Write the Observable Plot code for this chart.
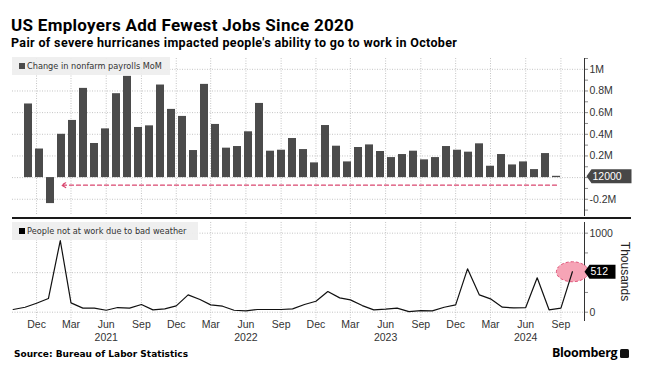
<!DOCTYPE html>
<html><head><meta charset="utf-8">
<script src="https://cdn.jsdelivr.net/npm/d3@7"></script>
<script src="https://cdn.jsdelivr.net/npm/@observablehq/plot@0.6"></script>
<style>
  html,body{margin:0;padding:0;background:#fff;}
  body{width:647px;height:375px;position:relative;overflow:hidden;font-family:"Liberation Sans",Arial,sans-serif;}
  .abs{position:absolute;}
  #title{left:11px;top:17px;font:700 17px/17px Roboto,sans-serif;letter-spacing:0.3px;color:#000;white-space:nowrap;}
  #subtitle{left:11px;top:37px;font:700 12.5px/12.5px Roboto,sans-serif;letter-spacing:0.35px;color:#000;white-space:nowrap;}
  .legend{background:rgba(238,238,238,0.92);font-family:"DejaVu Sans",sans-serif;font-size:8.2px;color:#333;white-space:nowrap;line-height:18px;height:18px;padding-left:15px;box-sizing:border-box;}
  .legend i{position:absolute;left:7px;top:6px;width:6px;height:6px;}
  #legTop{left:12px;top:57px;width:158px;}
  #legBot{left:12px;top:222px;width:186px;}
  #sep{left:12px;top:216.5px;width:619px;height:2.5px;background:#1a1a1a;}
  #source{left:14px;top:348px;font:700 9px/12px "DejaVu Sans",sans-serif;color:#000;white-space:nowrap;}
  #brand{left:552px;top:346px;font:700 12.5px/14px "Open Sans",sans-serif;color:#000;white-space:nowrap;letter-spacing:-0.3px;}
  #brand span{display:inline-block;width:9px;height:9px;background:#111;border-radius:1.5px;margin-left:3px;vertical-align:-0.5px;}
  [aria-label^="y-axis"] line, [aria-label^="y-axis"] path{stroke:#8a8a8a;}
</style>
</head><body>
<div id="title" class="abs">US Employers Add Fewest Jobs Since 2020</div>
<div id="subtitle" class="abs">Pair of severe hurricanes impacted people's ability to go to work in October</div>
<div id="charts"></div>
<div id="sep" class="abs"></div>
<div id="legTop" class="abs legend"><i style="background:#4b4b4b"></i>Change in nonfarm payrolls MoM</div>
<div id="legBot" class="abs legend"><i style="background:#000"></i>People not at work due to bad weather</div>
<div id="source" class="abs">Source: Bureau of Labor Statistics</div>
<div id="brand" class="abs">Bloomberg<span></span></div>
<script>
// ---- data ----
const months = [
  "2020-10","2020-11","2020-12",
  "2021-01","2021-02","2021-03","2021-04","2021-05","2021-06","2021-07","2021-08","2021-09","2021-10","2021-11","2021-12",
  "2022-01","2022-02","2022-03","2022-04","2022-05","2022-06","2022-07","2022-08","2022-09","2022-10","2022-11","2022-12",
  "2023-01","2023-02","2023-03","2023-04","2023-05","2023-06","2023-07","2023-08","2023-09","2023-10","2023-11","2023-12",
  "2024-01","2024-02","2024-03","2024-04","2024-05","2024-06","2024-07","2024-08","2024-09","2024-10"
];
// change in nonfarm payrolls, thousands
const payrolls = [
  680, 264, -240,
  400, 528, 824, 315, 450, 775, 935, 463, 478, 855, 630, 565,
  250, 861, 491, 272, 287, 423, 685, 244, 253, 361, 259, 136,
  481, 290, 145, 278, 302, 241, 185, 213, 244, 164, 185, 287,
  253, 235, 312, 105, 213, 117, 145, 74, 222, 12
];
// people not at work due to bad weather, thousands
const weather = [
  34, 63, 114,
  173, 907, 118, 51, 51, 25, 59, 51, 97, 30, 42, 80,
  219, 160, 93, 76, 25, 17, 34, 34, 34, 42, 97, 139,
  262, 181, 156, 84, 30, 38, 51, 8, 21, 17, 63, 93,
  549, 219, 169, 63, 55, 59, 435, 30, 51, 512
];
const tickMonths = ["2020-12","2021-03","2021-06","2021-09","2021-12","2022-03","2022-06","2022-09","2022-12","2023-03","2023-06","2023-09","2023-12","2024-03","2024-06","2024-09"];
const tickLabels = ["Dec","Mar","Jun","Sep","Dec","Mar","Jun","Sep","Dec","Mar","Jun","Sep","Dec","Mar","Jun","Sep"];
const yearMonths = ["2021-06","2022-06","2023-06","2024-06"];
const yearLabels = ["2021","2022","2023","2024"];
const topGridValues = [-200, 0, 200, 400, 600, 800, 1000];
const bottomGridValues = [0, 500, 1000];
const arrowNote = {from: "2024-10", to: "2021-01", level: -70};

// ---- helpers ----
const toDate = m => new Date(m + "-01T00:00:00Z");
const payrollRows = months.map((m, i) => ({month: m, value: payrolls[i]}));
const weatherRows = months.map((m, i) => ({date: toDate(m), value: weather[i]}));
const lastP = payrollRows[payrollRows.length - 1];
const lastW = weatherRows[weatherRows.length - 1];
const tickDates = tickMonths.map(toDate);
const yearDates = yearMonths.map(toDate);

const W = 647;
const font = {background: "transparent", fontFamily: "'Liberation Sans', Arial, sans-serif", fontSize: "10.5px", color: "#333", overflow: "visible"};
const grid = {stroke: "#c4c4c4", strokeDasharray: "1,1.5", strokeWidth: 1};
const xTime = {type: "utc", domain: [toDate(months[0]), toDate(months[months.length - 1])], range: [12.7, 571.9], axis: null};

const ellipse = {draw(ctx) {
  const rx = 16, ry = 10, k = 0.5523;
  ctx.moveTo(rx, 0);
  ctx.bezierCurveTo(rx, ry * k, rx * k, ry, 0, ry);
  ctx.bezierCurveTo(-rx * k, ry, -rx, ry * k, -rx, 0);
  ctx.bezierCurveTo(-rx, -ry * k, -rx * k, -ry, 0, -ry);
  ctx.bezierCurveTo(rx * k, -ry, rx, -ry * k, rx, 0);
  ctx.closePath();
}};
const callout = (w, h) => ({draw(ctx) {
  const a = 5, hh = h / 2;
  ctx.moveTo(0, 0); ctx.lineTo(a, -hh); ctx.lineTo(w, -hh); ctx.lineTo(w, hh); ctx.lineTo(a, hh); ctx.closePath();
}});

const common = {width: W, marginLeft: 12, marginRight: 63, style: font};

// top panel: vertical gridlines on the time axis
const gridTop = Plot.plot({
  ...common, height: 175, marginTop: 8, marginBottom: 10,
  x: xTime,
  marks: [Plot.ruleX(tickDates, grid)]
});

// top panel: bars
const topChart = Plot.plot({
  ...common, height: 175, marginTop: 8, marginBottom: 10,
  x: {type: "band", domain: months, range: [11, 573.4], paddingInner: 0.3, paddingOuter: 0.15, axis: null},
  y: {domain: [-350, 1100], axis: "right", label: null, line: true, tickSize: 3, tickPadding: 2,
      ticks: d3.range(-300, 1101, 100),
      tickFormat: d => d === 0 || d % 200 !== 0 ? "" : (d === 1000 ? "1M" : (d / 1000) + "M")},
  marks: [
    Plot.ruleY(topGridValues, grid),
    Plot.barY(payrollRows, {x: "month", y: "value", fill: "#4b4b4b"}),
    Plot.arrow([arrowNote], {x1: "from", x2: "to", y1: "level", y2: "level", stroke: "#d9466f", strokeWidth: 1.2, strokeDasharray: "4,3", headLength: 6}),
    Plot.dot([lastP], {y: "value", frameAnchor: "right", dx: 2, symbol: callout(45, 14), fill: "#474747"}),
    Plot.text([lastP], {y: "value", frameAnchor: "right", dx: 8, textAnchor: "start", text: d => String(d.value * 1000), fill: "#fff", fontSize: 10.5})
  ]
});

// bottom panel
const bottomChart = Plot.plot({
  ...common, height: 135, marginTop: 7, marginBottom: 30,
  x: xTime,
  y: {domain: [-105, 1135], axis: "right", label: null, line: true, tickSize: 3, tickPadding: 2,
      ticks: [0, 250, 500, 750, 1000], tickFormat: d => (d === 0 || d === 1000) ? String(d) : ""},
  marks: [
    Plot.ruleY(bottomGridValues, grid),
    Plot.ruleX(tickDates, grid),
    Plot.dot([lastW], {x: "date", y: "value", symbol: ellipse, fill: "#f6a4b6", stroke: "#e0587c", strokeDasharray: "3,2", strokeWidth: 1}),
    Plot.line(weatherRows, {x: "date", y: "value", stroke: "#111", strokeWidth: 1.2}),
    Plot.dot([lastW], {y: "value", frameAnchor: "right", dx: 0, symbol: callout(31, 14), fill: "#000"}),
    Plot.text([lastW], {y: "value", frameAnchor: "right", dx: 6, textAnchor: "start", text: d => String(d.value), fill: "#fff", fontSize: 10.5}),
    Plot.text(tickDates, {x: d => d, text: (d, i) => tickLabels[i], frameAnchor: "bottom", dy: 7, fill: "#333"}),
    Plot.text(yearDates, {x: d => d, text: (d, i) => yearLabels[i], frameAnchor: "bottom", dy: 20, fill: "#333"}),
    Plot.text(["Thousands"], {text: d => d, frameAnchor: "right", textAnchor: "middle", rotate: 90, dx: 40, fontSize: 12, fill: "#222"})
  ]
});

const holder = document.getElementById("charts");
[[gridTop, 50], [topChart, 50], [bottomChart, 215]].forEach(([el, top]) => {
  el.style.position = "absolute";
  el.style.left = "0px";
  el.style.top = top + "px";
  holder.appendChild(el);
});
</script>
</body></html>
